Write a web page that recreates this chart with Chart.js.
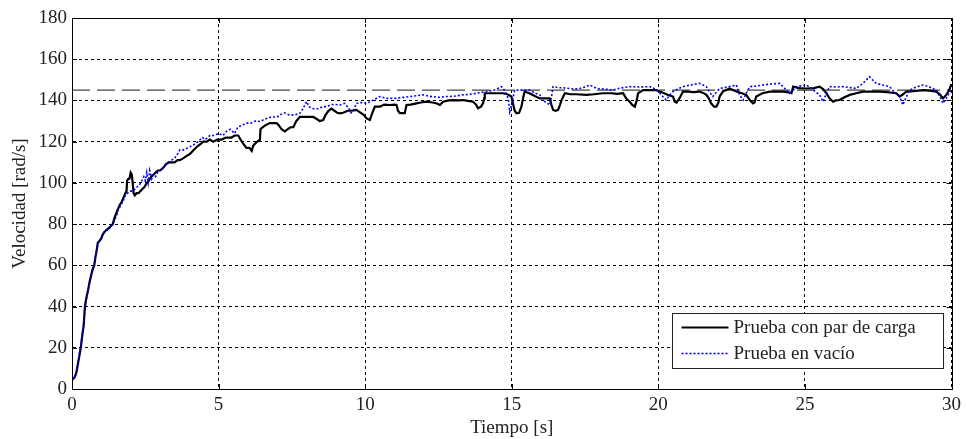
<!DOCTYPE html>
<html>
<head>
<meta charset="utf-8">
<script src="https://cdn.jsdelivr.net/npm/chart.js@4.4.1/dist/chart.umd.min.js"></script>
<style>
  html, body { margin: 0; padding: 0; background: #fff; }
  #wrap { width: 966px; height: 439px; position: relative; }
</style>
</head>
<body>
<div id="wrap"><canvas id="c" width="966" height="439"></canvas></div>
<script>
// Speed response of the motor: with load torque and at no load
const seriesNames = ['Prueba con par de carga', 'Prueba en vacío'];
const axisTitles = { x: 'Tiempo [s]', y: 'Velocidad [rad/s]' };
const xTicks = [0, 5, 10, 15, 20, 25, 30];
const yTicks = [0, 20, 40, 60, 80, 100, 120, 140, 160, 180];
const referenceValue = 145;

// Test with load torque (time in s, speed in rad/s)
const loadTime = [0.00,0.05,0.10,0.15,0.20,0.25,0.30,0.35,0.40,0.43,0.45,0.50,0.55,0.60,0.65,0.70,0.76,0.80,0.85,0.88,0.95,1.00,1.05,1.10,1.16,1.25,1.32,1.39,1.45,1.50,1.56,1.62,1.70,1.76,1.82,1.86,1.88,1.92,1.96,2.00,2.04,2.07,2.10,2.14,2.20,2.27,2.33,2.40,2.47,2.55,2.62,2.70,2.78,2.85,2.93,3.00,3.09,3.15,3.20,3.30,3.40,3.50,3.60,3.68,3.80,3.90,4.02,4.15,4.30,4.40,4.48,4.60,4.70,4.82,4.95,5.10,5.25,5.44,5.55,5.67,5.75,5.84,5.95,6.05,6.13,6.18,6.24,6.32,6.41,6.43,6.50,6.60,6.75,6.90,6.98,7.05,7.15,7.26,7.35,7.45,7.55,7.65,7.77,7.90,8.05,8.23,8.35,8.45,8.57,8.65,8.75,8.85,8.95,9.05,9.14,9.25,9.40,9.55,9.70,9.85,9.95,10.05,10.16,10.22,10.33,10.50,10.65,10.84,11.00,11.07,11.12,11.18,11.35,11.41,11.55,11.75,11.90,12.09,12.30,12.45,12.55,12.66,12.85,13.00,13.20,13.34,13.50,13.68,13.78,13.85,13.95,14.02,14.06,14.08,14.30,14.50,14.70,14.85,14.99,15.05,15.10,15.16,15.25,15.33,15.40,15.44,15.60,15.80,15.96,16.10,16.30,16.35,16.41,16.50,16.58,16.65,16.70,16.81,17.00,17.20,17.55,17.80,18.11,18.40,18.60,18.80,18.90,19.02,19.10,19.20,19.26,19.31,19.48,19.70,19.93,20.05,20.20,20.35,20.50,20.56,20.62,20.72,20.84,21.00,21.20,21.40,21.55,21.64,21.72,21.80,21.90,21.98,22.05,22.09,22.20,22.43,22.66,22.85,23.00,23.12,23.23,23.28,23.34,23.55,23.80,24.00,24.25,24.40,24.54,24.60,24.80,25.05,25.30,25.50,25.62,25.73,25.84,25.96,26.05,26.18,26.35,26.53,26.75,26.98,27.20,27.55,27.80,28.12,28.23,28.35,28.46,28.70,29.03,29.25,29.48,29.60,29.71,29.82,29.92,30.00];
const loadSpeed = [5,5,6,8,12,16,20,26,31,38,41,45,48,52,55,58,60,64,68,71,72,73,75,76,77,78,79,80,83,85,87,89,91,93,95,96,101,102,102,105,104,100,95,94,95,95,96,97,98,100,101,103,104,105,106,106,107,108,109,110,110,110,111,111,112,113,114,116,118,119,120,120,121,120,121,121,122,122,123,123,121,119,117,117,115.5,118,119,120,121,126,127,128,129,129,129,128,126,125,126,127,127,130,132,132,132,132,131,130,130.5,133,135,136,135,134,133.7,134,135,135,135.4,134,133,131.3,130.5,133,137,137,138,137.8,138,137.8,135,133.8,133.8,137.8,138,138.6,139,139.4,139,138.5,137.8,139.4,140,140.2,140,140.2,139.8,139.4,138,136.2,137,138.6,141,143.5,143.5,143.5,143.5,143,141.9,138,135,133.8,134,137,142,144.3,143.5,142,141,141,141,138,135.4,135,135.4,138,140.2,143.5,143,143,142.7,143,143.5,143.5,143.2,143.5,141,139.4,138,137,140,143.5,145,145,145,144.3,143.5,142.5,141.9,139.4,139,141,144.3,144.3,144,144.3,143.5,142.7,141,138.6,137,137,139,141.9,144.3,145.8,144.3,143.5,142.7,140.2,138.6,139,141.9,143.5,144.3,144.3,144.3,144,143.5,146.7,146,145.8,146,146.7,145.5,143.5,141,139.4,140,140.2,141.5,142.7,143.5,144.3,144.3,144.3,144,143.5,141.9,143,144.3,144.5,145,144.8,144.3,143,141,142.7,145,148];

// No-load test (time in s, speed in rad/s)
const noLoadTime = [0.00,0.05,0.10,0.15,0.20,0.25,0.30,0.35,0.40,0.45,0.50,0.55,0.60,0.65,0.70,0.76,0.80,0.85,0.90,0.95,1.00,1.08,1.16,1.25,1.32,1.39,1.45,1.52,1.58,1.66,1.74,1.82,1.90,1.98,2.07,2.15,2.22,2.30,2.38,2.45,2.50,2.55,2.60,2.65,2.72,2.78,2.85,2.92,3.00,3.10,3.20,3.30,3.40,3.50,3.60,3.68,3.80,3.95,4.14,4.30,4.45,4.55,4.70,4.85,5.00,5.15,5.27,5.40,5.55,5.65,5.80,5.96,6.10,6.25,6.41,6.60,6.80,7.00,7.09,7.25,7.40,7.60,7.77,7.88,8.00,8.08,8.23,8.40,8.55,8.68,8.85,9.00,9.14,9.30,9.45,9.52,9.60,9.70,9.85,10.05,10.25,10.50,10.75,11.07,11.30,11.60,11.98,12.20,12.50,12.78,13.00,13.34,13.60,13.80,14.13,14.40,14.55,14.65,14.75,14.88,14.93,15.00,15.10,15.30,15.61,15.80,15.96,16.05,16.13,16.30,16.36,16.41,16.60,16.87,17.10,17.32,17.50,17.66,17.90,18.20,18.45,18.70,19.02,19.30,19.70,19.90,20.05,20.18,20.27,20.38,20.50,20.65,20.84,21.10,21.41,21.64,21.75,21.86,21.95,22.09,22.35,22.66,22.77,22.89,23.00,23.12,23.35,23.57,23.85,24.14,24.30,24.48,24.60,24.71,25.05,25.30,25.50,25.62,25.72,25.84,26.05,26.30,26.55,26.75,26.98,27.20,27.43,27.65,27.89,28.05,28.23,28.34,28.45,28.57,28.80,29.03,29.25,29.48,29.60,29.71,29.82,29.94,30.00];
const noLoadSpeed = [4,5,6,9,12,17,21,26,32,39,44,48,51,55,57,61,64,68,71,72,74,76,77,77,79,80,82,84,87,89,91,94,95,96,96,97,98,99,101,103,101,105,100,106,102,104,103,105,106,107,109,110,111,112,114,116,116,117,118.4,120,122,121,123,123,124,123,125,126,124,127,128,129,129,130,129.8,131,132,132,133,134,133,133,133.7,136,139.5,137,136,136,137,137,138,138,137.8,138.6,136,134,135,138.6,139,138.6,140,141.9,141,141,141.5,142,142.7,142,141.5,141.9,142,142.7,143,143.5,144.3,145,146,146.7,145,141,134.5,138,145,145,145,143.5,142.7,141,139.4,137.8,142,146.7,146.2,146,145.5,145.8,146.5,147.5,145.8,145.5,145,146,146.7,146.5,146.7,145.5,143.5,141.5,140.2,142.5,144.3,145.5,146.7,147.5,148.3,146.7,144,141.9,143.5,145.8,146.5,147.5,142.7,140.2,143.5,146.7,147,147.5,148,148.3,146,143.5,145,146.7,147.5,145,142.7,139.4,143,146.7,146.5,146.7,146.2,145.8,148.3,151.5,148.3,147.5,146.7,144,141.9,137.8,141.5,145,146.5,147.5,146.5,145,142,138.6,141,144,145];

const FONT = 'Liberation Serif';
const FONT_SIZE = 19;
const TEXT = '#222';

function toPoints(xs, ys) { return xs.map((x, i) => ({ x: x, y: ys[i] })); }

// White background, box frame with inward ticks, and the boxed legend
const framePlugin = {
  id: 'frame',
  beforeDraw(chart) {
    const ctx = chart.ctx;
    ctx.save();
    ctx.fillStyle = '#fff';
    ctx.fillRect(0, 0, chart.width, chart.height);
    ctx.restore();
  },
  afterDraw(chart) {
    const { ctx, chartArea: a, scales } = chart;
    ctx.save();
    ctx.strokeStyle = '#000';
    ctx.lineWidth = 1;
    ctx.setLineDash([]);
    const tl = 5;
    ctx.beginPath();
    scales.x.ticks.forEach(t => {
      const px = Math.round(scales.x.getPixelForValue(t.value)) + 0.5;
      ctx.moveTo(px, a.bottom); ctx.lineTo(px, a.bottom - tl);
      ctx.moveTo(px, a.top); ctx.lineTo(px, a.top + tl);
    });
    scales.y.ticks.forEach(t => {
      const py = Math.round(scales.y.getPixelForValue(t.value)) + 0.5;
      ctx.moveTo(a.left, py); ctx.lineTo(a.left + tl, py);
      ctx.moveTo(a.right, py); ctx.lineTo(a.right - tl, py);
    });
    ctx.stroke();
    ctx.strokeRect(Math.round(a.left) + 0.5, Math.round(a.top) + 0.5,
                   Math.round(a.right - a.left), Math.round(a.bottom - a.top));

    // legend box in the lower right corner
    const bw = 271, bh = 55;
    const bx = Math.round(a.right - 9 - bw) + 0.5;
    const by = Math.round(a.bottom - 21 - bh) + 0.5;
    ctx.fillStyle = '#fff';
    ctx.fillRect(bx, by, bw, bh);
    ctx.strokeStyle = '#222';
    ctx.strokeRect(bx, by, bw, bh);
    ctx.font = FONT_SIZE + 'px "' + FONT + '"';
    ctx.textBaseline = 'middle';
    ctx.fillStyle = TEXT;
    [0, 1].forEach(i => {
      const ds = chart.data.datasets[i];
      const ly = by + 14 + i * 26;
      ctx.beginPath();
      ctx.strokeStyle = ds.borderColor;
      ctx.lineWidth = ds.borderWidth;
      ctx.setLineDash(ds.borderDash || []);
      ctx.moveTo(bx + 9, ly); ctx.lineTo(bx + 56, ly);
      ctx.stroke();
      ctx.fillText(ds.label, bx + 61, ly + 1);
    });
    ctx.restore();
  }
};

new Chart(document.getElementById('c'), {
  type: 'line',
  data: {
    datasets: [
      {
        label: seriesNames[0],
        data: toPoints(loadTime, loadSpeed),
        borderColor: '#000',
        borderWidth: 2.2,
        pointRadius: 0,
        tension: 0,
        order: 2
      },
      {
        label: seriesNames[1],
        data: toPoints(noLoadTime, noLoadSpeed),
        borderColor: '#0000ff',
        borderWidth: 1.6,
        borderDash: [2, 2],
        pointRadius: 0,
        tension: 0,
        order: 1
      },
      {
        label: 'Referencia',
        data: [{ x: xTicks[0], y: referenceValue }, { x: xTicks[xTicks.length - 1], y: referenceValue }],
        borderColor: '#444',
        borderWidth: 1.2,
        borderDash: [18, 7],
        pointRadius: 0,
        order: 3
      }
    ]
  },
  options: {
    responsive: false,
    animation: false,
    devicePixelRatio: 1,
    layout: { padding: { top: 18, right: 14, left: 0, bottom: 0 } },
    plugins: { legend: { display: false }, tooltip: { enabled: false } },
    scales: {
      x: {
        type: 'linear',
        min: xTicks[0],
        max: xTicks[xTicks.length - 1],
        afterBuildTicks: s => { s.ticks = xTicks.map(v => ({ value: v })); },
        afterFit: s => { s.height = 50; },
        grid: { color: '#000', lineWidth: 1, drawTicks: false },
        border: { display: true, color: '#000', dash: [3, 3] },
        ticks: { padding: 5, color: TEXT, font: { family: FONT, size: FONT_SIZE }, maxRotation: 0 },
        title: { display: true, text: axisTitles.x, color: TEXT, font: { family: FONT, size: FONT_SIZE }, padding: { top: 0, bottom: 0 } }
      },
      y: {
        type: 'linear',
        min: yTicks[0],
        max: yTicks[yTicks.length - 1],
        afterBuildTicks: s => { s.ticks = yTicks.map(v => ({ value: v })); },
        afterFit: s => { s.width = 72; },
        grid: { color: '#000', lineWidth: 1, drawTicks: false },
        border: { display: true, color: '#000', dash: [3, 3] },
        ticks: { padding: 5, color: TEXT, font: { family: FONT, size: FONT_SIZE } },
        title: { display: true, text: axisTitles.y, color: TEXT, font: { family: FONT, size: FONT_SIZE }, padding: { top: 9, bottom: 2 } }
      }
    }
  },
  plugins: [framePlugin]
});
</script>
</body>
</html>
